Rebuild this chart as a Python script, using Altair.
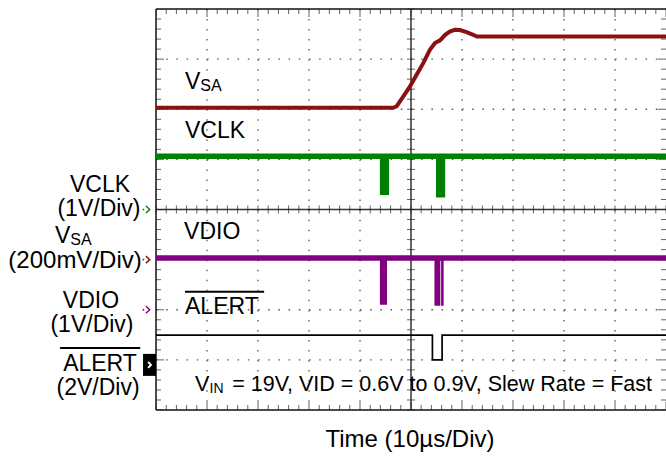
import altair as alt
import pandas as pd
import numpy as np

FONT = "Liberation Sans"

# ---------------- channel settings ----------------
ch_names = ["VCLK", "VSA", "VDIO", "ALERT"]
ch_offset = [0.0, -1.0, -2.0, -3.0]      # reference level, divisions from centre
ch_vdiv = [1.0, 0.2, 1.0, 2.0]           # volts per division
ch_color = ["#008000", "#8b1010", "#800080", "#000000"]
ch_width = [5.5, 4, 5.5, 1.7]

# ---------------- traces (time in us, value in V) ----------------
vsa_t = [0, 46.5, 47.2, 48.5, 49.8, 51.1, 52.4, 53.7, 54.7, 55.7, 56.7, 57.6,
         58.6, 59.6, 60.9, 62.2, 62.9, 100]
vsa_v = [0.606, 0.606, 0.612, 0.651, 0.691, 0.738, 0.784, 0.837, 0.864, 0.875,
         0.897, 0.910, 0.917, 0.916, 0.908, 0.897, 0.890, 0.890]
vclk_t = [0, 100]
vclk_v = [1.06, 1.06]
vdio_t = [0, 100]
vdio_v = [1.03, 1.03]
alert_t = [0, 54.2, 54.2, 56.1, 56.1, 100]
alert_v = [0.99, 0.99, 0.0, 0.0, 0.99, 0.99]

# bus activity bursts (filled regions)
vclk_b_start = [43.9, 54.9]
vclk_b_end = [45.7, 56.7]
vclk_b_low = [0.29, 0.24]
vclk_b_high = [1.06, 1.06]
vdio_b_start = [43.9, 54.6, 55.9]
vdio_b_end = [45.3, 55.75, 56.4]
vdio_b_low = [0.10, 0.08, 0.08]
vdio_b_high = [1.03, 1.03, 1.03]

# ---------------- text ----------------
left_text = ["V", "SA", "VCLK", "VDIO", "ALERT", "V", "IN", "V", "SA"]
left_t = [5.69, 8.69, 5.69, 5.5, 5.69, 7.65, 10.49, -19.8, -16.8]
left_d = [2.404, 2.374, 1.417, -0.579, -2.075, -3.621, -3.661, -0.660, -0.700]
left_size = [23, 16, 23, 23, 23, 21.5, 14, 23, 16]

right_text = ["= 19V, VID = 0.6V to 0.9V, Slew Rate = Fast"]
right_t = [97.25]
right_d = [-3.621]
right_size = [21.5]

center_text = ["VCLK", "(1V/Div)", "(200mV/Div)", "VDIO", "(1V/Div)", "ALERT",
               "(2V/Div)", "Time (10\u00b5s/Div)"]
center_t = [-10.98, -11.18, -15.88, -12.75, -12.55, -10.98, -11.37, 49.8]
center_d = [0.349, -0.120, -1.175, -1.965, -2.440, -3.222, -3.705, -4.738]
center_size = [23, 23, 24, 23, 23, 23, 23, 24]

overline_t0 = [5.69, -18.8]
overline_t1 = [21.2, -3.1]
overline_d = [-1.640, -2.763]

marker_t = -1.57

# ---------------- helpers ----------------
xs = alt.Scale(domain=[0, 100], nice=False, zero=False)
ys = alt.Scale(domain=[-4, 4], nice=False, zero=False)


def X(f):
    return alt.X(f, type="quantitative", scale=xs, axis=None)


def Y(f):
    return alt.Y(f, type="quantitative", scale=ys, axis=None)


def to_div(ch, v):
    i = ch_names.index(ch)
    return ch_offset[i] + np.asarray(v, dtype=float) / ch_vdiv[i]


layers = []

# ---------------- graticule ----------------
div_t = [10, 20, 30, 40, 60, 70, 80, 90]
div_d = [-3, -2, -1, 1, 2, 3]
vgrid = pd.DataFrame({"t": div_t, "y0": 4.0, "y1": -4.0})
hgrid = pd.DataFrame({"d": div_d, "x0": 0.0, "x1": 100.0})
layers.append(alt.Chart(vgrid).mark_rule(color="#555555", strokeWidth=1.3, strokeDash=[1.5, 8.53])
              .encode(x=X("t"), y=Y("y0"), y2="y1"))
layers.append(alt.Chart(hgrid).mark_rule(color="#555555", strokeWidth=1.3, strokeDash=[1.5, 8.7])
              .encode(y=Y("d"), x=X("x0"), x2="x1"))

# centre cross
cross_v = pd.DataFrame({"t": [50.0], "y0": [4.0], "y1": [-4.0]})
cross_h = pd.DataFrame({"d": [0.0], "x0": [0.0], "x1": [100.0]})
layers.append(alt.Chart(cross_v).mark_rule(color="#333333", strokeWidth=1.5)
              .encode(x=X("t"), y=Y("y0"), y2="y1"))
layers.append(alt.Chart(cross_h).mark_rule(color="#333333", strokeWidth=1.5)
              .encode(y=Y("d"), x=X("x0"), x2="x1"))

# frame (left, top, bottom)
frame_v = pd.DataFrame({"t": [0.0], "y0": [4.0], "y1": [-4.0]})
frame_h = pd.DataFrame({"d": [4.0, -4.0], "x0": [0.0, 0.0], "x1": [100.0, 100.0]})
layers.append(alt.Chart(frame_v).mark_rule(color="#111111", strokeWidth=1.5)
              .encode(x=X("t"), y=Y("y0"), y2="y1"))
layers.append(alt.Chart(frame_h).mark_rule(color="#111111", strokeWidth=1.5)
              .encode(y=Y("d"), x=X("x0"), x2="x1"))

# ticks
minor_t = np.round(np.arange(0, 100.001, 2), 3)
minor_d = np.round(np.arange(-4, 4.001, 0.2), 3)
edge_tb = pd.DataFrame([{"t": t, "d": d, "s": 16 if abs(t % 10) < 1e-6 else 10}
                        for t in minor_t for d in (4.0, -4.0)])
edge_lr = pd.DataFrame([{"t": t, "d": d, "s": 16 if abs(d - round(d)) < 1e-6 else 10}
                        for d in minor_d for t in (0.0, 100.0)])
layers.append(alt.Chart(edge_tb).mark_tick(orient="vertical", thickness=1, color="#222222", clip=True)
              .encode(x=X("t"), y=Y("d"), size=alt.Size("s:Q", scale=None)))
layers.append(alt.Chart(edge_lr).mark_tick(orient="horizontal", thickness=1, color="#222222", clip=True)
              .encode(x=X("t"), y=Y("d"), size=alt.Size("s:Q", scale=None)))
cross_tx = pd.DataFrame({"t": minor_t, "d": 0.0})
cross_ty = pd.DataFrame({"t": 50.0, "d": minor_d})
layers.append(alt.Chart(cross_tx).mark_tick(orient="vertical", thickness=1, size=8, color="#222222")
              .encode(x=X("t"), y=Y("d")))
layers.append(alt.Chart(cross_ty).mark_tick(orient="horizontal", thickness=1, size=8, color="#222222")
              .encode(x=X("t"), y=Y("d")))

# ---------------- traces ----------------
for ch, ts, vs in [("ALERT", alert_t, alert_v), ("VDIO", vdio_t, vdio_v),
                   ("VCLK", vclk_t, vclk_v), ("VSA", vsa_t, vsa_v)]:
    i = ch_names.index(ch)
    df = pd.DataFrame({"t": ts, "d": to_div(ch, vs), "i": list(range(len(ts)))})
    layers.append(alt.Chart(df).mark_line(color=ch_color[i], strokeWidth=ch_width[i])
                  .encode(x=X("t"), y=Y("d"), order="i:Q"))

for ch, s, e, lo, hi in [("VCLK", vclk_b_start, vclk_b_end, vclk_b_low, vclk_b_high),
                         ("VDIO", vdio_b_start, vdio_b_end, vdio_b_low, vdio_b_high)]:
    i = ch_names.index(ch)
    df = pd.DataFrame({"t0": s, "t1": e, "d0": to_div(ch, lo), "d1": to_div(ch, hi)})
    layers.append(alt.Chart(df).mark_rect(color=ch_color[i])
                  .encode(x=X("t0"), x2="t1", y=Y("d0"), y2="d1"))

# ---------------- channel markers ----------------
mk = pd.DataFrame({"t": marker_t, "d": ch_offset[:3], "c": ch_color[:3]})
chev = "M-0.6,-1L0.5,0L-0.6,1"
layers.append(alt.Chart(mk).mark_point(shape=chev, filled=False, strokeWidth=1.4, size=49, opacity=1)
              .encode(x=X("t"), y=Y("d"), color=alt.Color("c:N", scale=None)))
mkdot = pd.DataFrame({"t": marker_t - 0.9, "d": ch_offset[:3], "c": ch_color[:3]})
layers.append(alt.Chart(mkdot).mark_point(shape="square", filled=True, size=2.5, opacity=1)
              .encode(x=X("t"), y=Y("d"), color=alt.Color("c:N", scale=None)))
box = pd.DataFrame({"t": [marker_t + 0.3], "d": [ch_offset[3] - 0.1]})
layers.append(alt.Chart(box).mark_point(shape="M-0.59,-1H0.59V1H-0.59Z", filled=True, size=484,
                                        color="#000000", opacity=1)
              .encode(x=X("t"), y=Y("d")))
layers.append(alt.Chart(box).mark_point(shape="M-0.45,-1L0.45,0L-0.45,1", filled=False, size=36,
                                        strokeWidth=2, color="#ffffff", opacity=1)
              .encode(x=X("t"), y=Y("d")))

# ---------------- text ----------------
ldf = pd.DataFrame({"txt": left_text, "t": left_t, "d": left_d, "s": left_size})
rdf = pd.DataFrame({"txt": right_text, "t": right_t, "d": right_d, "s": right_size})
cdf = pd.DataFrame({"txt": center_text, "t": center_t, "d": center_d, "s": center_size})
layers.append(alt.Chart(ldf).mark_text(align="left", baseline="alphabetic", font=FONT, color="#000000")
              .encode(x=X("t"), y=Y("d"), text="txt:N", size=alt.Size("s:Q", scale=None)))
layers.append(alt.Chart(rdf).mark_text(align="right", baseline="alphabetic", font=FONT, color="#000000")
              .encode(x=X("t"), y=Y("d"), text="txt:N", size=alt.Size("s:Q", scale=None)))
layers.append(alt.Chart(cdf).mark_text(align="center", baseline="alphabetic", font=FONT, color="#000000")
              .encode(x=X("t"), y=Y("d"), text="txt:N", size=alt.Size("s:Q", scale=None)))
odf = pd.DataFrame({"t0": overline_t0, "t1": overline_t1, "d": overline_d})
layers.append(alt.Chart(odf).mark_rule(color="#000000", strokeWidth=2)
              .encode(x=X("t0"), x2="t1", y=Y("d")))

chart = (
    alt.layer(*layers)
    .properties(width=510, height=401,
                padding={"left": 156, "top": 9, "right": 0, "bottom": 50},
                autosize=alt.AutoSizeParams(type="none"),
                background="white")
    .configure_view(stroke=None)
)

chart.save("out.html", embed_options={"renderer": "svg", "actions": False})
